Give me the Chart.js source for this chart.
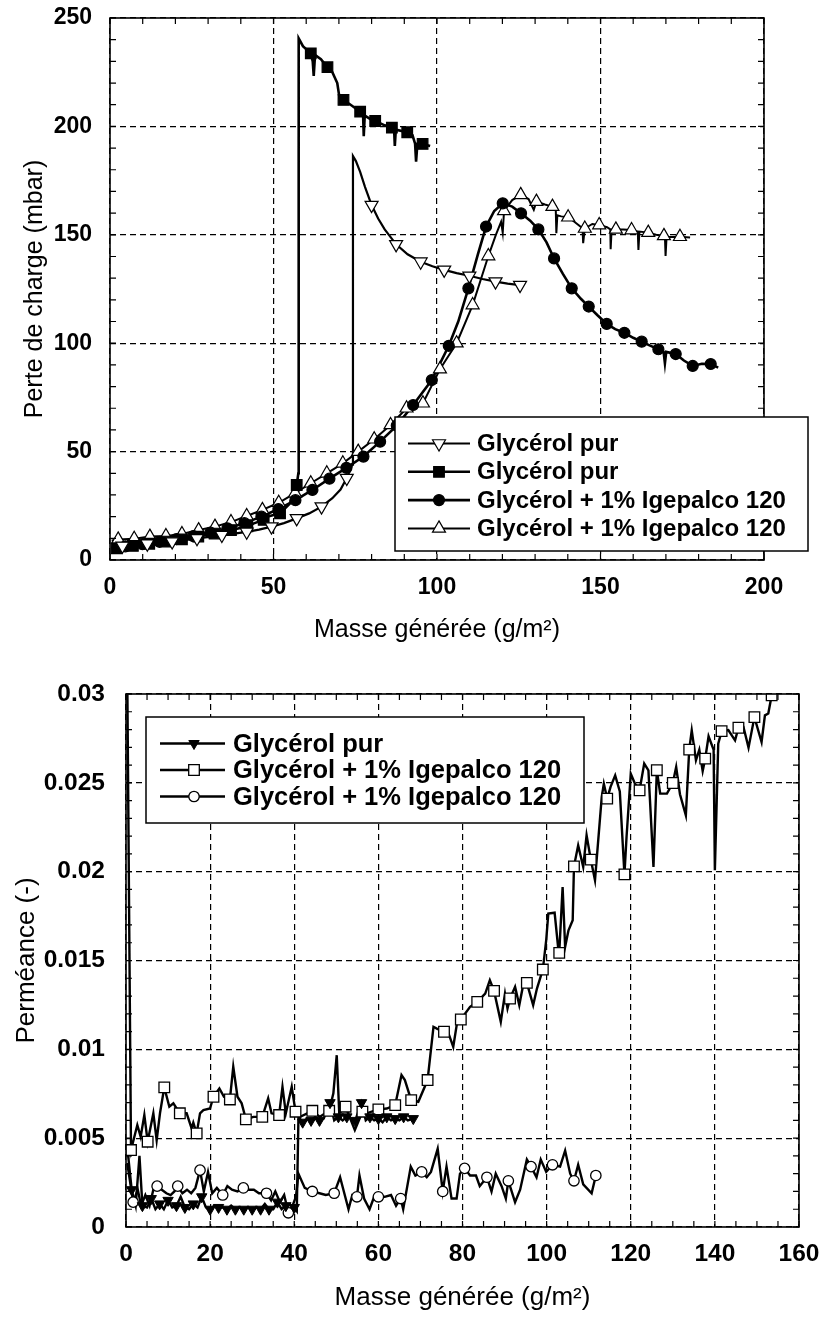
<!DOCTYPE html>
<html>
<head>
<meta charset="utf-8">
<script src="https://cdn.jsdelivr.net/npm/chart.js@4.4.1/dist/chart.umd.min.js"></script>
<style>
  html, body { margin: 0; padding: 0; background: #fff; }
  #wrap { position: relative; width: 824px; height: 1321px; overflow: hidden; }
  canvas { position: absolute; left: 0; }
  #pressure { top: 0; }
  #permeance { top: 660px; }
</style>
</head>
<body>
<div id="wrap">
  <canvas id="pressure" width="824" height="660"></canvas>
  <canvas id="permeance" width="824" height="661"></canvas>
</div>
<script>
// ---------- Perte de charge (mbar) vs masse générée ----------
// Glycérol pur, run 1 (open down-triangles)
const purTriLine = [[0.5,6],[3.8,6.5],[7.6,7],[11.4,7.5],[15.2,8],[19,8.5],[22.8,9.2],[26.6,10],[30.4,10.7],[34.2,11.5],[38,12.2],[41.8,13],[45.6,14],[49.4,15.4],[53.2,17],[57.1,19.2],[60.9,21.5],[64.7,24.6],[68,28.5],[70.5,32.5],[72.4,37.8],[73.6,42],[74.1,44],[74.3,186.3],[75.2,184],[76.5,179],[78,172],[80,163.7],[82,157.5],[84,152.5],[87.5,145.6],[91,141],[95,137.6],[98.6,135.5],[102.2,133.8],[106,132.3],[109.9,131.1],[113.9,129.6],[117.9,128.4],[121.6,127.5],[125.4,126.8]];
const purTriMarks = [[3.8,6.5],[11.4,7.5],[19,8.5],[26.6,10],[34.2,11.5],[41.8,13],[49.4,15.4],[57.1,19.2],[64.7,24.6],[72.4,37.8],[80,163.7],[87.5,145.6],[95,137.6],[102.2,133.8],[109.9,131.1],[117.9,128.4],[125.4,126.8]];

// Glycérol pur, run 2 (filled squares)
const purSqLine = [[0.5,5.2],[2,5.4],[7,6.5],[12,7.5],[17,8.5],[22,9.5],[27,10.8],[32,12.2],[37,13.8],[42,15.5],[44,16.9],[47,18.5],[48,20],[52,21.5],[55,26],[57.1,34.6],[57.6,40],[57.7,240.6],[59,237],[61.4,233.7],[62,230],[62.3,223.3],[62.7,233],[64.5,231],[66.5,227.3],[68,225],[69.5,220],[70.2,213],[71.4,212.2],[74,209.5],[76.5,206.8],[77.4,205],[77.6,195.5],[77.9,205],[79.5,203.5],[81.1,202.5],[84,200.5],[86.2,199.4],[86.9,198],[87.1,191],[87.4,198.5],[90.9,197.3],[92.5,196],[93.3,192],[93.6,183.7],[94,192],[95.6,191.9],[97.9,191]];
const purSqMarks = [[2,5.4],[7,6.5],[12,7.5],[17,8.5],[22,9.5],[27,10.8],[32,12.2],[37,13.8],[42,15.5],[47,18.5],[52,21.5],[57.1,34.6],[61.4,233.7],[66.5,227.3],[71.4,212.2],[76.5,206.8],[81.1,202.5],[86.2,199.4],[90.9,197.3],[95.6,191.9]];

// Glycérol + 1% Igepalco 120, run 1 (filled circles)
const igeCircLine = [[0.5,5.5],[4.7,6.3],[9.9,7.3],[15.1,8.4],[20.3,9.6],[25.5,11],[30.7,12.6],[35.9,14.6],[41.1,17],[46.3,20],[51.5,23.5],[56.7,27.6],[61.9,32.3],[67.1,37.5],[72.3,42.5],[77.5,47.7],[82.6,54.6],[87.7,62],[92.7,71.5],[98.4,83],[103.6,98.8],[106.5,110],[109.6,125.3],[112.5,141],[115,153.8],[117.5,161],[120.1,164.5],[123,163],[125.7,159.9],[128.5,156.5],[131,152.5],[133.5,146.5],[135.8,139.1],[138.5,132],[141.2,125.3],[144,120.5],[146.4,116.9],[149,113],[151.9,108.9],[154.5,106.5],[157.3,104.8],[160,102.5],[162.6,100.7],[165,99],[167.7,97.2],[169.3,96],[169.7,90.7],[170.1,96],[173,95],[175.5,92],[178.2,89.5],[181,90.5],[183.7,90.4],[186,88.7]];
const igeCircMarks = [[4.7,6.3],[9.9,7.3],[15.1,8.4],[20.3,9.6],[25.5,11],[30.7,12.6],[35.9,14.6],[41.1,17],[46.3,20],[51.5,23.5],[56.7,27.6],[61.9,32.3],[67.1,37.5],[72.3,42.5],[77.5,47.7],[82.6,54.6],[87.7,62],[92.7,71.5],[98.4,83],[103.6,98.8],[109.6,125.3],[115,153.8],[120.1,164.5],[125.7,159.9],[131,152.5],[135.8,139.1],[141.2,125.3],[146.4,116.9],[151.9,108.9],[157.3,104.8],[162.6,100.7],[167.7,97.2],[173,95],[178.2,89.5],[183.7,90.4]];

// Glycérol + 1% Igepalco 120, run 2 (open up-triangles)
const igeTriLine = [[0.5,9],[2.5,9.5],[7.4,9.8],[12.2,10.8],[17.1,11.1],[22,12],[27.1,13.8],[32.1,15.4],[37,17.5],[41.8,20.3],[46.6,23.1],[51.6,26.4],[56.6,30.8],[61.4,35.4],[66.3,40],[71.2,44.6],[75.9,50],[80.8,55.7],[85.8,62.3],[90.7,70],[95.7,72.3],[100.9,88],[106,100],[110.9,117.6],[115.7,140.2],[118,150],[119.6,156],[120.1,151],[120.5,161],[123,166],[125.6,168.4],[128,166.5],[129.6,161.5],[130.4,165.3],[133,164],[135.3,163],[136.3,163],[136.5,150.7],[136.8,159],[138,158.5],[140.1,158.1],[142,156],[144.5,153],[144.7,146.1],[145.2,152.9],[147.5,155],[149.6,154.5],[152,153.5],[153,152.5],[153.1,143.4],[153.4,152.5],[154.7,152.5],[157,152.5],[159.5,152.2],[161.4,151.5],[161.6,143],[161.9,151.5],[164.6,151],[167,150],[169.7,149.5],[169.9,140.2],[170.2,149],[172,149],[174.3,149.1],[177.4,148.8]];
const igeTriMarks = [[2.5,9.5],[7.4,9.8],[12.2,10.8],[17.1,11.1],[22,12],[27.1,13.8],[32.1,15.4],[37,17.5],[41.8,20.3],[46.6,23.1],[51.6,26.4],[56.6,30.8],[61.4,35.4],[66.3,40],[71.2,44.6],[75.9,50],[80.8,55.7],[85.8,62.3],[90.7,70],[95.7,72.3],[100.9,88],[106,100],[110.9,117.6],[115.7,140.2],[120.5,161],[125.6,168.4],[130.4,165.3],[135.3,163],[140.1,158.1],[145.2,152.9],[149.6,154.5],[154.7,152.5],[159.5,152.2],[164.6,151],[169.4,149.5],[174.3,149.1]];

// ---------- Perméance (-) vs masse générée ----------
// Glycérol pur (filled down-triangles)
const permPurLine = [[0.3,0.0045],[1.35,0.0021],[2.3,0.0012],[3.2,0.0040],[3.9,0.0012],[5,0.0011],[6,0.0016],[7,0.0010],[8,0.0013],[9,0.0010],[10,0.0015],[11,0.0011],[12,0.0012],[13,0.0017],[14,0.0011],[15,0.0010],[16,0.0013],[17,0.0011],[18,0.0017],[19,0.0011],[20,0.0010],[21,0.0012],[22,0.0011],[23,0.0011],[24,0.0010],[25,0.0012],[26,0.0010],[27,0.0011],[28,0.0010],[29,0.0011],[30,0.0010],[31,0.0011],[32,0.0010],[33,0.0013],[34,0.0010],[35,0.0010],[36,0.0014],[37,0.0010],[38,0.0012],[39,0.0010],[40,0.0011],[40.6,0.0009],[41,0.0062],[42,0.0059],[43,0.0061],[44,0.0060],[45,0.0062],[46,0.0060],[47,0.0061],[48.5,0.0070],[49.5,0.0060],[50.5,0.0062],[51.5,0.0060],[52.5,0.0062],[53.5,0.0061],[54.5,0.0060],[56,0.0070],[57,0.0060],[58,0.0062],[59,0.0060],[60,0.0061],[61,0.0059],[62,0.0062],[63,0.0060],[64,0.0061],[65,0.0060],[66,0.0062],[67,0.0060],[68.3,0.0061]];
const permPurMarks = [[1.35,0.0021],[3.9,0.0012],[6,0.0016],[8,0.0013],[10,0.0015],[12,0.0012],[14,0.0011],[16,0.0013],[18,0.0017],[20,0.0010],[22,0.0011],[24,0.0010],[26,0.0010],[28,0.0010],[30,0.0010],[32,0.0010],[34,0.0010],[36,0.0014],[38,0.0012],[40,0.0011],[42,0.0059],[44,0.0060],[46,0.0060],[48.5,0.0070],[50.5,0.0062],[52.5,0.0062],[54.5,0.0060],[56,0.0070],[58,0.0062],[60,0.0061],[62,0.0062],[64,0.0061],[66,0.0062],[68.3,0.0061]];

// Glycérol + 1% Igepalco 120 (open squares); the first reading is off scale
const permIgeSqLine = [[0.3,0.031],[1.19,0.00433],[2.69,0.00574],[3.49,0.00508],[4.36,0.0063],[5.15,0.0048],[6.5,0.0064],[7.29,0.00489],[8.08,0.0064],[9.1,0.00786],[10.3,0.00677],[11.26,0.00696],[12.8,0.0064],[14.42,0.0064],[15.6,0.00555],[16,0.00587],[16.8,0.00527],[17.6,0.0064],[18.4,0.00658],[19.97,0.00667],[20.8,0.00733],[22.2,0.0078],[23.3,0.00733],[24.7,0.00718],[25.5,0.00902],[26.5,0.00733],[27.5,0.00696],[28.5,0.00606],[30.3,0.0062],[32.4,0.0062],[33.8,0.00724],[34.6,0.0064],[36.4,0.0063],[37.2,0.00789],[38,0.0064],[39.4,0.00789],[40.3,0.00649],[41.4,0.0062],[44.3,0.00654],[46.1,0.0062],[48.3,0.00654],[49.3,0.00752],[50.1,0.00967],[50.7,0.0064],[52.2,0.00677],[54.4,0.00546],[56.2,0.00649],[57.2,0.0064],[60,0.00662],[62,0.00667],[64,0.00686],[65.5,0.00855],[66.3,0.00827],[67.8,0.00714],[69.5,0.00705],[71.7,0.00827],[73.1,0.01127],[73.9,0.01117],[75.6,0.01099],[76.6,0.01095],[77.8,0.01014],[78.8,0.01164],[79.6,0.01168],[81.8,0.01239],[83.5,0.01267],[85.4,0.01314],[86.5,0.01389],[87.5,0.01329],[89.1,0.01155],[90.1,0.01314],[90.7,0.0123],[91.3,0.01286],[92.5,0.01352],[93.5,0.01249],[94.5,0.01371],[95.3,0.01374],[96.8,0.01249],[97.7,0.01342],[99.1,0.01449],[99.9,0.01614],[100.4,0.01764],[101.9,0.01769],[102.8,0.01558],[103,0.01543],[103.8,0.01914],[104.4,0.01577],[105.2,0.0167],[106.2,0.01727],[106.5,0.0203],[107.5,0.02148],[108.7,0.02027],[109.5,0.02205],[110.5,0.02068],[111.5,0.01952],[113.1,0.0242],[113.6,0.02495],[114.4,0.02411],[115.2,0.02477],[116.3,0.02542],[117.4,0.02452],[118.5,0.01985],[119,0.02195],[120,0.02552],[121,0.02495],[122.1,0.02458],[123.2,0.02608],[124.2,0.0257],[125.4,0.02027],[126.2,0.02571],[127,0.02439],[128.6,0.02439],[130,0.02499],[130.8,0.02589],[131.7,0.02436],[133.1,0.02317],[133.9,0.02687],[134.5,0.02795],[135.5,0.02627],[136.3,0.02686],[137.1,0.02566],[137.7,0.02636],[138.5,0.02762],[139.7,0.02686],[140,0.02008],[140.8,0.0272],[141.6,0.02791],[143.2,0.02797],[144.8,0.02739],[145.6,0.0281],[146.8,0.02814],[148,0.02698],[149.4,0.0287],[151.1,0.0273],[151.9,0.0288],[152.7,0.0289],[153.5,0.02992]];
const permIgeSqMarks = [[1.19,0.00433],[5.15,0.0048],[9.1,0.00786],[12.8,0.0064],[16.8,0.00527],[20.8,0.00733],[24.7,0.00718],[28.5,0.00606],[32.4,0.0062],[36.4,0.0063],[40.3,0.00649],[44.3,0.00654],[48.3,0.00654],[52.2,0.00677],[56.2,0.00649],[60,0.00662],[64,0.00686],[67.8,0.00714],[71.7,0.00827],[75.6,0.01099],[79.6,0.01168],[83.5,0.01267],[87.5,0.01329],[91.3,0.01286],[95.3,0.01374],[99.1,0.01449],[103,0.01543],[106.5,0.0203],[110.5,0.02068],[114.4,0.02411],[118.5,0.01985],[122.1,0.02458],[126.2,0.02571],[130,0.02499],[133.9,0.02687],[137.7,0.02636],[141.6,0.02791],[145.6,0.0281],[149.4,0.0287],[153.5,0.02992]];

// Glycérol + 1% Igepalco 120 (open circles)
const permIgeCircLine = [[0.3,0.0036],[1.7,0.0014],[2.8,0.0021],[3.6,0.0012],[4.6,0.0018],[5.6,0.0012],[6.5,0.0021],[7.4,0.0023],[8.5,0.0021],[9.6,0.0019],[10.6,0.0018],[11.5,0.0020],[12.3,0.0023],[13.4,0.0019],[14.5,0.0021],[15.5,0.0019],[16.5,0.0022],[17.6,0.0032],[18.5,0.0020],[19.5,0.0031],[20.5,0.0019],[21.6,0.0022],[23,0.0018],[24.1,0.0023],[25.2,0.0021],[26.5,0.0020],[27.9,0.0022],[29,0.0021],[30.4,0.0021],[31.6,0.0019],[33.4,0.0019],[34.5,0.0015],[35.5,0.0020],[36.6,0.0014],[37.6,0.0018],[38.6,0.0008],[39.6,0.0012],[40.4,0.0017],[41,0.0030],[42.5,0.0022],[44.3,0.0020],[46,0.0019],[47.5,0.0018],[49.5,0.0019],[50.9,0.0028],[52.9,0.0010],[53.8,0.0018],[54.9,0.0017],[55.5,0.0029],[56.6,0.0016],[57.9,0.0010],[59,0.0017],[60,0.0017],[61.5,0.0017],[63,0.0018],[64.2,0.0012],[65.3,0.0016],[65.9,0.0010],[67.7,0.0034],[68.8,0.0029],[70.3,0.0031],[71.5,0.0028],[72.5,0.0031],[74.1,0.0044],[75.3,0.0020],[76.2,0.0034],[77.4,0.0016],[78.6,0.0016],[79.4,0.0030],[80.5,0.0033],[81.8,0.0029],[83.2,0.0029],[84.1,0.0023],[85.8,0.0028],[86.9,0.0020],[87.9,0.0030],[89.3,0.0023],[90.3,0.0016],[90.9,0.0026],[92.5,0.0014],[93.7,0.0021],[95.3,0.0038],[96.3,0.0034],[97.6,0.0028],[98.6,0.0038],[99.9,0.0031],[101.4,0.0035],[103.2,0.0034],[104.4,0.0043],[105.6,0.0030],[106.5,0.0026],[107.5,0.0035],[108.7,0.0024],[110.7,0.0019],[111.7,0.0029]];
const permIgeCircMarks = [[1.7,0.0014],[7.4,0.0023],[12.3,0.0023],[17.6,0.0032],[23,0.0018],[27.9,0.0022],[33.4,0.0019],[38.6,0.0008],[44.3,0.0020],[49.5,0.0019],[54.9,0.0017],[60,0.0017],[65.3,0.0016],[70.3,0.0031],[75.3,0.0020],[80.5,0.0033],[85.8,0.0028],[90.9,0.0026],[96.3,0.0034],[101.4,0.0035],[106.5,0.0026],[111.7,0.0029]];

// Axis ranges and labels
const pressureAxis = { xMin: 0, xMax: 200, xStep: 50, xMinor: 10, yMin: 0, yMax: 250, yStep: 50, yMinor: 10 };
const permeanceAxis = { xMin: 0, xMax: 160, xStep: 20, xMinor: 5, yMin: 0, yMax: 0.03, yStep: 0.005, yMinor: 0.001 };
const xTitle = 'Masse générée (g/m²)';
const pressureTitle = 'Perte de charge (mbar)';
const permeanceTitle = 'Perméance (-)';
const labelPur = 'Glycérol pur';
const labelIge = 'Glycérol + 1% Igepalco 120';

Chart.defaults.font.family = "'Liberation Sans', Arial, Helvetica, sans-serif";
Chart.defaults.color = '#000';

const toXY = pts => pts.map(p => ({ x: p[0], y: p[1] }));

// inward tick marks on all four sides plus the solid frame
const frameTicks = {
  id: 'frameTicks',
  afterDatasetsDraw(chart, args, o) {
    const { ctx, chartArea: a, scales: { x, y } } = chart;
    ctx.save();
    ctx.strokeStyle = '#000';
    ctx.lineWidth = o.tickWidth;
    ctx.beginPath();
    const nx = Math.round((x.max - x.min) / o.xMinor);
    for (let i = 0; i <= nx; i++) {
      const px = x.getPixelForValue(x.min + i * o.xMinor);
      ctx.moveTo(px, a.bottom); ctx.lineTo(px, a.bottom - o.len);
      ctx.moveTo(px, a.top); ctx.lineTo(px, a.top + o.len);
    }
    const ny = Math.round((y.max - y.min) / o.yMinor);
    for (let i = 0; i <= ny; i++) {
      const py = y.getPixelForValue(y.min + i * o.yMinor);
      ctx.moveTo(a.left, py); ctx.lineTo(a.left + o.len, py);
      ctx.moveTo(a.right, py); ctx.lineTo(a.right - o.len, py);
    }
    ctx.stroke();
    ctx.lineWidth = o.frameWidth;
    ctx.strokeRect(a.left, a.top, a.right - a.left, a.bottom - a.top);
    ctx.restore();
  }
};

function drawMarker(ctx, ds, x, y) {
  ctx.save();
  ctx.fillStyle = ds.backgroundColor;
  ctx.strokeStyle = ds.borderColor;
  ctx.lineWidth = ds.borderWidth;
  Chart.helpers.drawPoint(ctx, {
    pointStyle: ds.pointStyle, rotation: ds.rotation || 0,
    radius: ds.pointRadius, borderWidth: ds.borderWidth
  }, x, y);
  ctx.restore();
}

// boxed legend floating over the plot
const boxLegend = {
  id: 'boxLegend',
  afterDraw(chart, args, o) {
    const ctx = chart.ctx;
    const ds = chart.data.datasets;
    ctx.save();
    ctx.fillStyle = '#fff';
    ctx.fillRect(o.left, o.top, o.width, o.height);
    ctx.strokeStyle = '#000';
    ctx.lineWidth = o.borderWidth;
    ctx.strokeRect(o.left, o.top, o.width, o.height);
    ctx.font = o.font;
    ctx.textBaseline = 'middle';
    o.items.forEach((it, i) => {
      const cy = o.top + o.firstRow + i * o.rowGap;
      const line = ds[it.line], mark = ds[it.mark];
      ctx.strokeStyle = '#000';
      ctx.lineWidth = line.borderWidth;
      ctx.beginPath();
      ctx.moveTo(o.left + o.lineStart, cy);
      ctx.lineTo(o.left + o.lineEnd, cy);
      ctx.stroke();
      drawMarker(ctx, mark, o.left + o.markX, cy);
      ctx.fillStyle = '#000';
      ctx.fillText(line.label, o.left + o.textX, cy + 1);
    });
    ctx.restore();
  }
};

function lineSet(label, pts, width) {
  return { label, data: toXY(pts), showLine: true, pointRadius: 0, borderColor: '#000',
           borderWidth: width, tension: 0, order: 2, backgroundColor: '#000' };
}
function markSet(label, pts, style, rotation, radius, fill, bw) {
  return { label, data: toXY(pts), showLine: false, pointStyle: style, rotation,
           pointRadius: radius, pointHoverRadius: radius, backgroundColor: fill,
           borderColor: '#000', borderWidth: bw, order: 1 };
}

function makeOptions(ax, geo) {
  return {
    responsive: false, animation: false, events: [],
    layout: { padding: { top: geo.top, right: geo.right, left: 0, bottom: 0 } },
    scales: {
      x: {
        type: 'linear', min: ax.xMin, max: ax.xMax,
        ticks: { stepSize: ax.xStep, padding: geo.xTickPad, maxRotation: 0,
                 font: { size: geo.tickSize, weight: 'bold' }, color: '#000' },
        grid: { color: '#000', lineWidth: 1.2, drawTicks: false },
        border: { display: false, dash: [6, 4] },
        title: { display: true, text: xTitle, color: '#000',
                 font: { size: geo.titleSize, weight: 'normal' },
                 padding: { top: 0, bottom: geo.xTitlePad } },
        afterFit(s) { s.height = geo.xHeight; s.paddingLeft = 0; s.paddingRight = 0; }
      },
      y: {
        type: 'linear', min: ax.yMin, max: ax.yMax,
        ticks: { stepSize: ax.yStep, padding: geo.yTickPad,
                 font: { size: geo.tickSize, weight: 'bold' }, color: '#000',
                 callback: v => String(+Number(v).toFixed(4)) },
        grid: { color: '#000', lineWidth: 1.2, drawTicks: false },
        border: { display: false, dash: [6, 4] },
        title: { display: true, text: geo.yTitle, color: '#000',
                 font: { size: geo.titleSize, weight: 'normal' },
                 padding: { top: geo.yTitlePad, bottom: 0 } },
        afterFit(s) { s.width = geo.yWidth; s.paddingTop = 0; s.paddingBottom = 0; }
      }
    },
    plugins: {
      legend: { display: false },
      tooltip: { enabled: false },
      frameTicks: { xMinor: ax.xMinor, yMinor: ax.yMinor, len: 6, tickWidth: 1.2, frameWidth: 1.6 },
      boxLegend: geo.legend
    }
  };
}

new Chart(document.getElementById('pressure'), {
  type: 'scatter',
  data: {
    datasets: [
      lineSet(labelPur, purTriLine, 2.2),
      lineSet(labelPur, purSqLine, 2.6),
      lineSet(labelIge, igeCircLine, 2.6),
      lineSet(labelIge, igeTriLine, 2.0),
      markSet(labelPur, purTriMarks, 'triangle', 180, 7.5, '#fff', 1.2),
      markSet(labelPur, purSqMarks, 'rect', 0, 7.5, '#000', 1.2),
      markSet(labelIge, igeCircMarks, 'circle', 0, 5.5, '#000', 1.2),
      markSet(labelIge, igeTriMarks, 'triangle', 0, 7.5, '#fff', 1.2)
    ]
  },
  options: makeOptions(pressureAxis, {
    top: 18, right: 60, xHeight: 100, yWidth: 110,
    tickSize: 23, titleSize: 25, xTickPad: 14, yTickPad: 18,
    xTitlePad: 15, yTitlePad: 20, yTitle: pressureTitle,
    legend: {
      left: 395, top: 417, width: 413, height: 134, borderWidth: 1.5,
      font: "bold 24px 'Liberation Sans', Arial, sans-serif",
      firstRow: 26.5, rowGap: 28.3, lineStart: 13, lineEnd: 75, markX: 44, textX: 82,
      items: [{ line: 0, mark: 4 }, { line: 1, mark: 5 }, { line: 2, mark: 6 }, { line: 3, mark: 7 }]
    }
  }),
  plugins: [frameTicks, boxLegend]
});

new Chart(document.getElementById('permeance'), {
  type: 'scatter',
  data: {
    datasets: [
      lineSet(labelPur, permPurLine, 2.4),
      lineSet(labelIge, permIgeSqLine, 2.4),
      lineSet(labelIge, permIgeCircLine, 2.4),
      markSet(labelPur, permPurMarks, 'triangle', 180, 6, '#000', 1),
      markSet(labelIge, permIgeSqMarks, 'rect', 0, 7.5, '#fff', 1.3),
      markSet(labelIge, permIgeCircMarks, 'circle', 0, 5.2, '#fff', 1.3)
    ]
  },
  options: makeOptions(permeanceAxis, {
    top: 34, right: 25, xHeight: 94, yWidth: 126,
    tickSize: 24.5, titleSize: 26, xTickPad: 13, yTickPad: 21,
    xTitlePad: 8, yTitlePad: 11, yTitle: permeanceTitle,
    legend: {
      left: 146, top: 57, width: 438, height: 106, borderWidth: 1.5,
      font: "bold 25.5px 'Liberation Sans', Arial, sans-serif",
      firstRow: 26.5, rowGap: 26.5, lineStart: 14, lineEnd: 79, markX: 48, textX: 87,
      items: [{ line: 0, mark: 3 }, { line: 1, mark: 4 }, { line: 2, mark: 5 }]
    }
  }),
  plugins: [frameTicks, boxLegend]
});
</script>
</body>
</html>
